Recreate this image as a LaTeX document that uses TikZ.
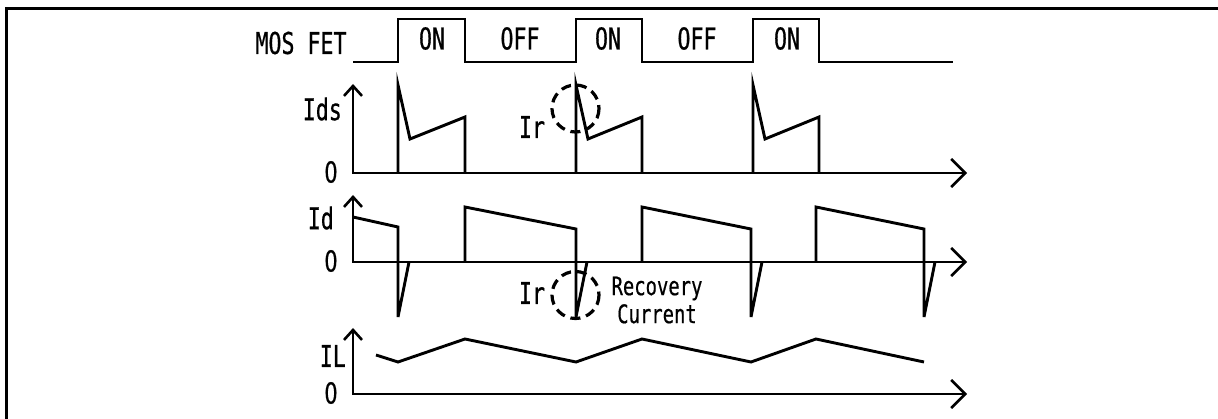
\documentclass[tikz,border=0pt]{standalone}
\usepackage{fontspec}
\usetikzlibrary{arrows.meta}
\newfontfamily\wavefont[FakeStretch=0.72,FakeBold=0.6]{DejaVu Sans Mono}
\newfontfamily\smallwavefont[FakeStretch=0.74,FakeBold=0.5]{DejaVu Sans Mono}
\newfontfamily\zerofont[FakeStretch=0.72,FakeBold=0.6]{DejaVu Sans}
\tikzset{
  wave/.style={line width=2.9pt, line join=miter, line cap=butt},
  axis/.style={line width=2.9pt, line join=miter,
    {Straight Barb[length=10pt,width=18pt,line width=2.6pt]}-{Straight Barb[length=14pt,width=28pt,line width=2.6pt]}},
  lbl/.style={inner sep=0pt, font=\fontsize{30}{30}\selectfont\wavefont},
  zlbl/.style={inner sep=0pt, font=\fontsize{29}{29}\selectfont\zerofont},
  small/.style={inner sep=0pt, font=\fontsize{25.5}{28}\selectfont\smallwavefont, align=center},
  ring/.style={line width=3.2pt, dash pattern=on 10pt off 6pt},
}
\begin{document}
\begin{tikzpicture}[x=1pt,y=-1pt]
\useasboundingbox (0,0) rectangle (1218,419);
\begin{scope}
\clip (0,0) rectangle (1218,419);
\draw[line width=3pt] (6,8.5) rectangle (1260,460);
\end{scope}

% MOS FET gate signal
\node[lbl] (mos) at (301,43) {MOS FET};
\draw[wave] (353,62) -- (398,62) -- (398,19) -- (465,19) -- (465,62) -- (576,62) -- (576,19) -- (642,19) -- (642,62) -- (753,62) -- (753,19) -- (819,19) -- (819,62) -- (953,62);
\node[lbl] (on1) at (432,38.5) {ON};
\node[lbl] (off1) at (520,38.5) {OFF};
\node[lbl] (on2) at (608,38.5) {ON};
\node[lbl] (off2) at (697,38.5) {OFF};
\node[lbl] (on3) at (787,38.5) {ON};

% Ids
\node[lbl, anchor=east] (ids) at (342,109) {Ids};
\node[zlbl] (z1) at (331,172) {0};
\draw[axis] (353,84) -- (353,173) -- (967,173);
\foreach \a/\b in {398/465, 576/642, 753/819}{
  \draw[wave] (\a,173) -- (\a,85) -- (\a+12,139) -- (\b,117) -- (\b,173);
}
\draw[ring] (575.5,108.5) circle[radius=23.5];
\node[lbl] (ir1) at (532,127) {Ir};

% Id
\node[lbl, anchor=east] (id) at (334,218) {Id};
\node[zlbl] (z2) at (331,261) {0};
\draw[axis] (353,195) -- (353,262) -- (967,262);
\draw[wave] (353,217) -- (398,227) -- (398,317) -- (409,262);
\draw[wave] (465,262) -- (465,207) -- (576,229) -- (576,317) -- (587,262);
\draw[wave] (642,262) -- (642,207) -- (751,229) -- (751,317) -- (762,262);
\draw[wave] (816,262) -- (816,207) -- (924,229) -- (924,317) -- (935,262);
\draw[ring] (575.5,295) circle[radius=23.5];
\node[lbl] (ir2) at (532,293) {Ir};
\node[small] (rec) at (657,300) {Recovery\\Current};

% IL
\node[lbl, anchor=east] (il) at (346,356) {IL};
\node[zlbl] (z3) at (331,393) {0};
\draw[axis] (353,328) -- (353,394) -- (967,394);
\draw[wave] (376,355) -- (398,362) -- (465,339) -- (576,362) -- (642,339) -- (751,362) -- (816,339) -- (924,362);
\end{tikzpicture}
\end{document}
